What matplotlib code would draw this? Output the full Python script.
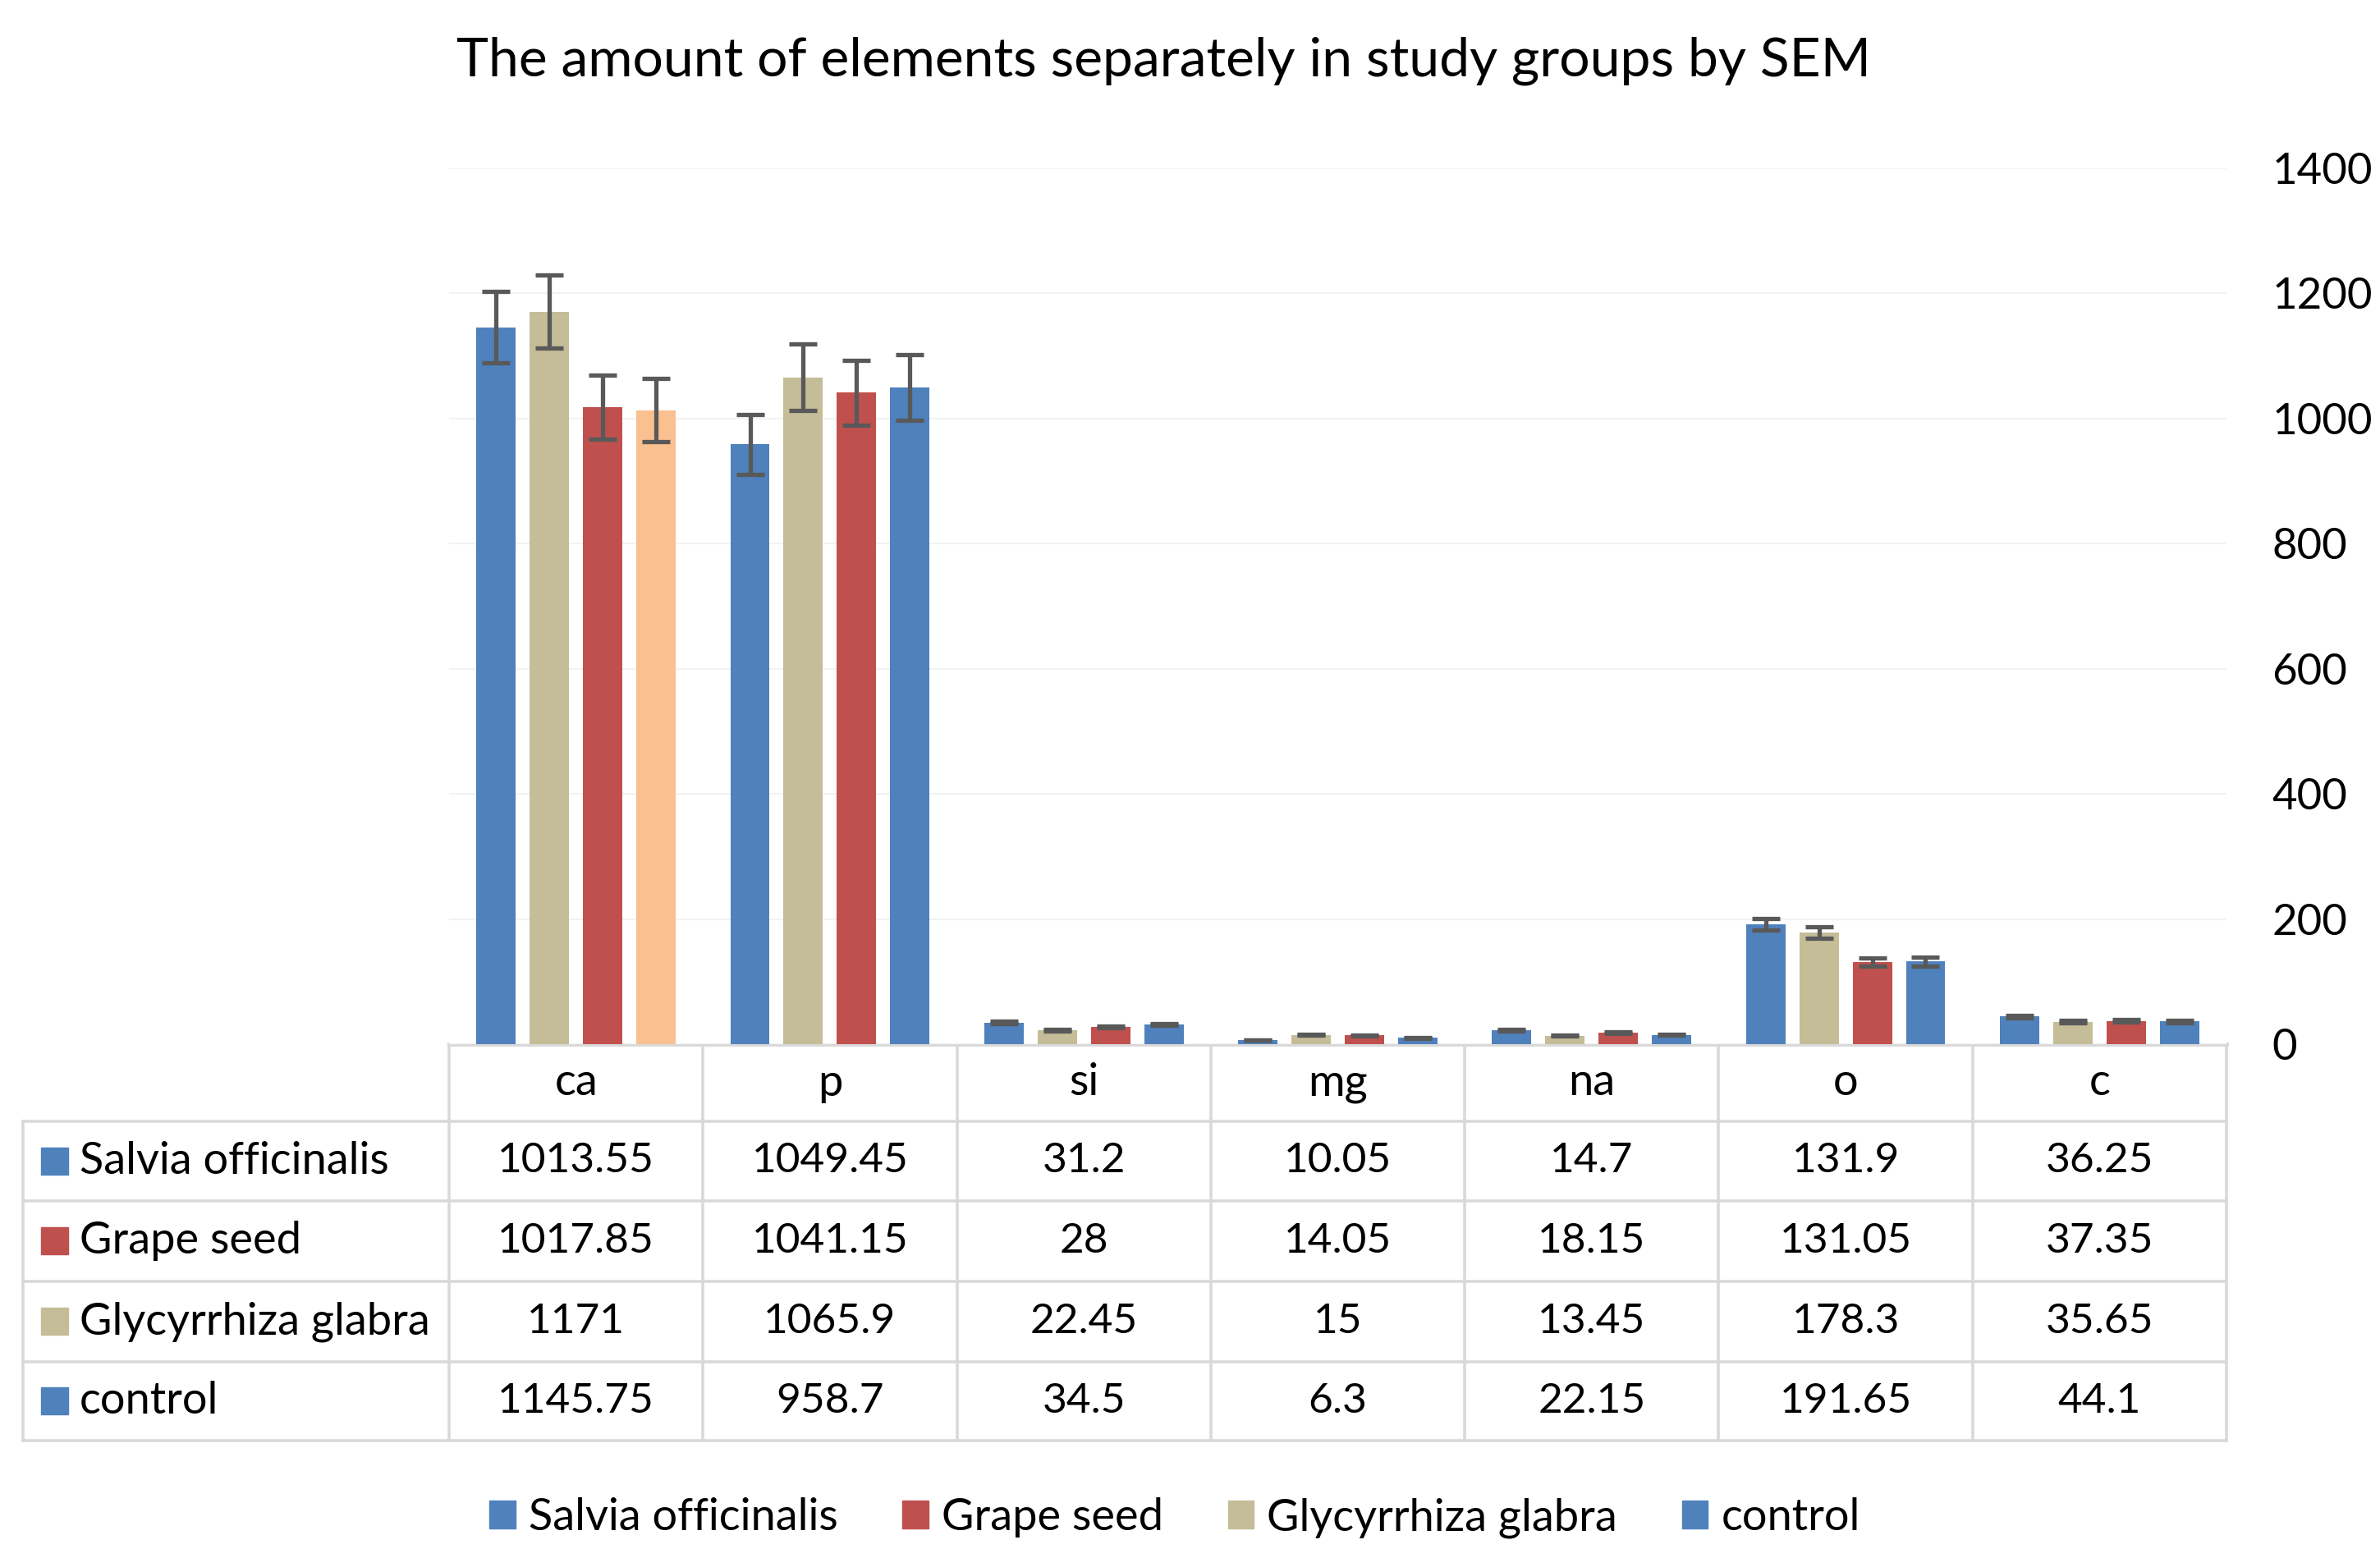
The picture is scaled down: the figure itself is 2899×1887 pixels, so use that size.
import matplotlib.pyplot as plt
import matplotlib.patches as mpatches
import numpy as np

#%% data
elements = ['ca', 'p', 'si', 'mg', 'na', 'o', 'c']
groups = ['Salvia officinalis', 'Grape seed', 'Glycyrrhiza glabra', 'control']

salvia = [1013.55, 1049.45, 31.2, 10.05, 14.7, 131.9, 36.25]
grape = [1017.85, 1041.15, 28, 14.05, 18.15, 131.05, 37.35]
glycyrrhiza = [1171, 1065.9, 22.45, 15, 13.45, 178.3, 35.65]
control = [1145.75, 958.7, 34.5, 6.3, 22.15, 191.65, 44.1]

# error bars
salvia_err = [50.7, 52.5, 1.6, 0.5, 0.7, 6.6, 1.8]
grape_err = [50.9, 52.1, 1.4, 0.7, 0.9, 6.6, 1.9]
glycyrrhiza_err = [58.6, 53.3, 1.1, 0.75, 0.7, 8.9, 1.8]
control_err = [57.3, 47.9, 1.7, 0.3, 1.1, 9.6, 2.2]

yticks = [0, 200, 400, 600, 800, 1000, 1200, 1400]

#%% style
plt.close('all')
plt.rcParams['font.family'] = ['Lato', 'DejaVu Sans']
blue = '#4F81BD'
red = '#C0504D'
tan = '#C4BD97'
peach = '#FAC090'
grid_c = '#D9D9D9'
fs_num = 37   # numbers in table
fs_lab = 39   # row names / legend
fs_tick = 38

W, H = 2899, 1887
fig = plt.figure(figsize=(W / 100, H / 100), dpi=100)

# plot area in pixels
x0, x1 = 547, 2712
ybase, ytop = 1272, 205
ax = fig.add_axes([x0 / W, 1 - ybase / H, (x1 - x0) / W, (ybase - ytop) / H])

x = np.arange(len(elements))
step = 0.21
bw = 0.155

# bars drawn left to right: control, Glycyrrhiza, Grape seed, Salvia
order = [
    (control, control_err, [blue] * 7),
    (glycyrrhiza, glycyrrhiza_err, [tan] * 7),
    (grape, grape_err, [red] * 7),
    (salvia, salvia_err, [peach] + [blue] * 6),
]
for i, (vals, errs, cols) in enumerate(order):
    xs = x + (i - 1.5) * step
    ax.bar(xs, vals, width=bw, color=cols, zorder=2)
    ax.errorbar(xs, vals, yerr=errs, fmt='none', ecolor='#595959',
                elinewidth=3.8, capsize=12.5, capthick=3.8, zorder=3)

ax.set_xlim(-0.5, len(elements) - 0.5)
ax.set_ylim(0, 1400)
ax.set_yticks(yticks)
ax.yaxis.tick_right()
ax.tick_params(axis='y', length=0, pad=40, labelsize=fs_tick)
ax.set_xticks([])
ax.grid(axis='y', color='#F2F2F2', lw=1.5, zorder=0)
for s in ax.spines.values():
    s.set_visible(False)

#%% title
fig.text(1418 / W, 1 - 74 / H, 'The amount of elements separately in study groups by SEM',
         ha='center', va='center', fontsize=47.5)

#%% data table under the chart (pixel coordinates)
tab = fig.add_axes([0, 0, 1, 1], zorder=-1)
tab.set_xlim(0, W)
tab.set_ylim(H, 0)
tab.axis('off')

tleft = 28
rows_y = [1272, 1366, 1463, 1561, 1659, 1755]
cw = (x1 - x0) / len(elements)
col_x = [x0 + k * cw for k in range(len(elements) + 1)]

lw = 2.6
tab.plot([x0, x1], [rows_y[0], rows_y[0]], color=grid_c, lw=lw + 1)
for yy in rows_y[1:]:
    tab.plot([tleft, x1], [yy, yy], color=grid_c, lw=lw)
tab.plot([tleft, tleft], [rows_y[1], rows_y[-1]], color=grid_c, lw=lw)
for xx in col_x:
    tab.plot([xx, xx], [rows_y[0], rows_y[-1]], color=grid_c, lw=lw)

for k, el in enumerate(elements):
    tab.text((col_x[k] + col_x[k + 1]) / 2, (rows_y[0] + rows_y[1]) / 2, el,
             ha='center', va='center', fontsize=fs_lab)

table_rows = [salvia, grape, glycyrrhiza, control]
row_cols = [blue, red, tan, blue]
for r, (name, vals, c) in enumerate(zip(groups, table_rows, row_cols)):
    yc = (rows_y[r + 1] + rows_y[r + 2]) / 2
    tab.add_patch(mpatches.Rectangle((50, yc - 17), 33, 33, color=c))
    tab.text(97, yc, name, ha='left', va='center', fontsize=fs_lab)
    for k, v in enumerate(vals):
        tab.text((col_x[k] + col_x[k + 1]) / 2, yc, f'{v:g}',
                 ha='center', va='center', fontsize=fs_num)

#%% legend
handles = [mpatches.Patch(color=c, label=g) for g, c in zip(groups, row_cols)]
fig.legend(handles=handles, loc='center', bbox_to_anchor=(1431 / W, 1 - 1849 / H),
           ncol=4, frameon=False, fontsize=fs_lab, handlelength=0.58, handleheight=0.58,
           handletextpad=0.3, columnspacing=1.45)

plt.savefig('out.png', dpi=100)
